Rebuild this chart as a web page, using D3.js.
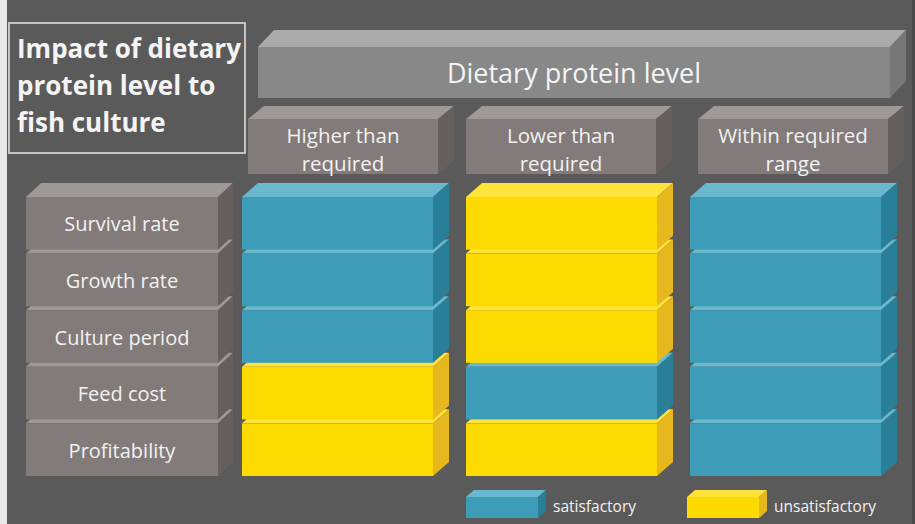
<!DOCTYPE html>
<html><head><meta charset="utf-8">
<script src="https://cdn.jsdelivr.net/npm/d3@7/dist/d3.min.js"></script>
<style>html,body{margin:0;padding:0;background:#5a5a5a;overflow:hidden}</style>
</head><body><svg id="c" width="915" height="524"></svg>
<script>
const titleLines = ["Impact of dietary", "protein level to", "fish culture"];
const groupTitle = "Dietary protein level";
const rows = ["Survival rate", "Growth rate", "Culture period", "Feed cost", "Profitability"];
const columns = ["Higher than required", "Lower than required", "Within required range"];
const columnLines = [["Higher than", "required"], ["Lower than", "required"], ["Within required", "range"]];
// 1 = satisfactory, 0 = unsatisfactory
const higherThan = [1, 1, 1, 0, 0];
const lowerThan = [0, 0, 0, 1, 0];
const withinRange = [1, 1, 1, 1, 1];
const legendLabels = ["satisfactory", "unsatisfactory"];

const statusByColumn = [higherThan, lowerThan, withinRange];
const svg = d3.select("#c");
const FONT = "'Open Sans', sans-serif";

const palette = {
  1: {front: "#3d9cb7", top: "#68b9cd", side: "#2a7f98"},
  0: {front: "#fddb00", top: "#ffe23a", side: "#e6b81e"},
  label: {front: "#827b79", top: "#9f9896", side: "#675f5d"},
  banner: {front: "#888888", top: "#aaaaaa", side: "#777777"}
};

function box(g, x, y, w, h, dx, dy, c) {
  g.append("path").attr("d", `M${x},${y}L${x+dx},${y-dy}L${x+w+dx},${y-dy}L${x+w},${y}Z`).attr("fill", c.top);
  g.append("path").attr("d", `M${x+w},${y}L${x+w+dx},${y-dy}L${x+w+dx},${y+h-dy}L${x+w},${y+h}Z`).attr("fill", c.side);
  g.append("rect").attr("x", x).attr("y", y).attr("width", w).attr("height", h).attr("fill", c.front);
}

// left white strip
svg.append("rect").attr("x", 0).attr("y", 0).attr("width", 7).attr("height", 524).attr("fill", "#e8e8e8");
svg.append("rect").attr("x", 912).attr("y", 0).attr("width", 3).attr("height", 524).attr("fill", "#4a4a4a");

// scales
const y = d3.scaleBand().domain(rows).range([197, 476]).paddingInner(0.07);
const xBars = d3.scaleOrdinal().domain(columns).range([242, 466, 690]);
const xHeads = d3.scaleOrdinal().domain(columns).range([248, 466, 698]);
const barW = 191, DX = 16, DY = 14;

// title box
svg.append("rect").attr("x", 9).attr("y", 23).attr("width", 236).attr("height", 130)
  .attr("fill", "none").attr("stroke", "#c4c4c4").attr("stroke-width", 2);
svg.append("g").selectAll("text").data(titleLines).join("text")
  .attr("x", 17).attr("y", (d, i) => 58 + i * 37)
  .attr("fill", "#f4f4f4").attr("font-family", FONT).attr("font-weight", "bold")
  .attr("font-size", 26).text(d => d);

// banner
const gb = svg.append("g");
box(gb, 258, 47, 632, 51, 16, 17, palette.banner);
gb.append("text").attr("x", 574).attr("y", 83).attr("text-anchor", "middle")
  .attr("fill", "#f4f4f4").attr("font-family", FONT).attr("font-size", 27).text(groupTitle);

// column headers
columns.forEach((col, i) => {
  const g = svg.append("g");
  box(g, xHeads(col), 119, 190, 55, 16, 13, palette.label);
  g.selectAll("text").data(columnLines[i]).join("text")
    .attr("x", xHeads(col) + 95).attr("y", (d, j) => 143 + j * 28)
    .attr("text-anchor", "middle").attr("fill", "#f2f2f2")
    .attr("font-family", FONT).attr("font-size", 20.5).text(d => d);
});

// row labels (draw bottom first)
const gl = svg.append("g");
rows.slice().reverse().forEach(r => {
  box(gl, 26, y(r), 192, y.bandwidth(), 15, DY, palette.label);
});
gl.selectAll("text").data(rows).join("text")
  .attr("x", 122).attr("y", r => y(r) + y.bandwidth() / 2 + 8)
  .attr("text-anchor", "middle").attr("fill", "#f2f2f2")
  .attr("font-family", FONT).attr("font-size", 20).text(d => d);

// bars
columns.forEach((col, i) => {
  const g = svg.append("g");
  const vals = statusByColumn[i];
  rows.map((r, k) => ({r, v: vals[k]})).reverse().forEach(d => {
    box(g, xBars(col), y(d.r), barW, y.bandwidth(), DX, DY, palette[d.v]);
  });
});

// legend
const legendX = d3.scaleOrdinal().domain(legendLabels).range([466, 687]);
legendLabels.forEach((lab, i) => {
  const g = svg.append("g");
  box(g, legendX(lab), 497, 72, 21, 8, 7, palette[i === 0 ? 1 : 0]);
  g.append("text").attr("x", legendX(lab) + 87).attr("y", 512)
    .attr("fill", "#f2f2f2").attr("font-family", FONT).attr("font-size", 15.5).text(lab);
});
</script></body></html>
